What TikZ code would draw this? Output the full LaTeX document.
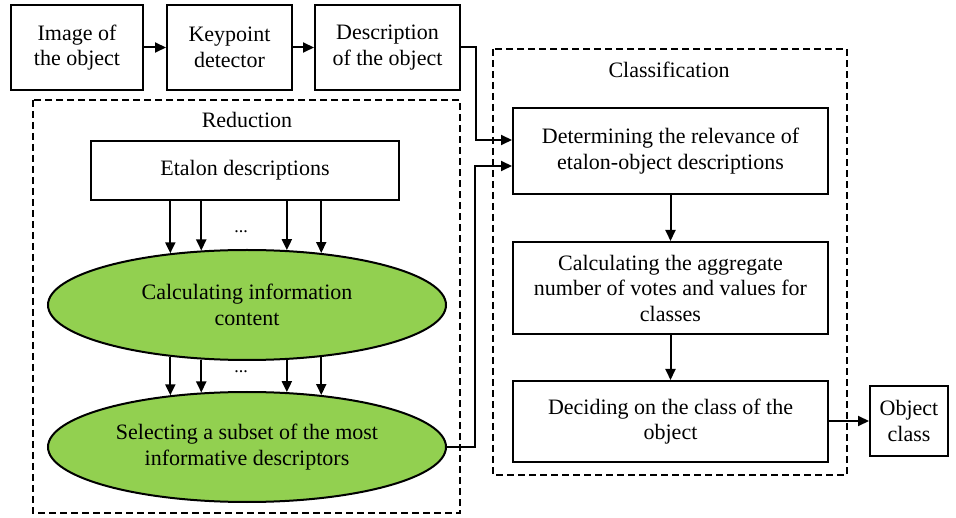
\documentclass[tikz,border=0pt]{standalone}
\usepackage{fontspec}
\setmainfont{Liberation Serif}
\usetikzlibrary{arrows.meta,shapes.geometric}
\definecolor{leafgreen}{RGB}{146,208,80}
\begin{document}
\begin{tikzpicture}[x=1pt,y=-1pt,
  every node/.style={font=\fontsize{22}{25.5}\selectfont, align=center, inner sep=0pt},
  box/.style={draw, line width=2pt, fill=white},
  oval/.style={ellipse, draw, line width=2pt, fill=leafgreen, minimum width=398pt, minimum height=110pt},
  group/.style={draw, line width=1.7pt, dash pattern=on 7pt off 4pt},
  arr/.style={line width=2pt, -{Triangle[length=11pt,width=10pt]}},
  plain/.style={line width=2pt}]
\useasboundingbox (0,0) rectangle (956,518);
% groups
\draw[group] (33,100) rectangle (460,513);
\draw[group] (493,49) rectangle (847,475);
\node (redlbl) at (247,120) {Reduction};
\node (clslbl) at (669,70) {Classification};
% top row
\node[box, minimum width=132pt, minimum height=85pt] (img) at (77,47.5) {Image of\\the object};
\node[box, minimum width=125pt, minimum height=85pt] (kp) at (229.5,47.5) {Keypoint\\detector};
\node[box, minimum width=145pt, minimum height=85pt] (desc) at (387.5,47.5) {Description\\of the object};
% reduction
\node[box, minimum width=308pt, minimum height=59pt] (etal) at (245,170.5) {Etalon descriptions};
\node[oval] (ell1) at (247,305) {Calculating information\\content};
\node[oval] (ell2) at (247,447) {Selecting a subset of the most\\informative descriptors};
% classification
\node[box, minimum width=315pt, minimum height=86pt] (det) at (670.5,151) {Determining the relevance of\\etalon-object descriptions};
\node[box, minimum width=315pt, minimum height=92pt] (agg) at (670.5,288) {Calculating the aggregate\\number of votes and values for\\classes};
\node[box, minimum width=315pt, minimum height=81pt] (dec) at (670.5,421.5) {Deciding on the class of the\\object};
\node[box, minimum width=78pt, minimum height=70pt] (cls) at (909,421) {Object\\class};
% connectors
\draw[arr] (img) -- (kp);
\draw[arr] (kp) -- (desc);
\draw[arr] (desc.east) -- ++(15,0) |- ([yshift=11pt]det.west);
\draw[arr] (ell2.east) -- ++(28,0) |- ([yshift=-15pt]det.west);
\foreach \a in {146.6,130.7,54.1,35.5}{
  \draw[arr] (etal.south -| ell1.\a) -- (ell1.\a);
  \draw[arr] (ell1.-\a) -- (ell1.-\a |- ell2.\a);
}
\node[font=\fontsize{18}{18}\selectfont] (dots1) at (241,232) {...};
\node[font=\fontsize{18}{18}\selectfont] (dots2) at (241,372) {...};
\draw[arr] (det) -- (agg);
\draw[arr] (agg) -- (dec);
\draw[arr] (dec.east |- cls.west) -- (cls.west);
\end{tikzpicture}
\end{document}
